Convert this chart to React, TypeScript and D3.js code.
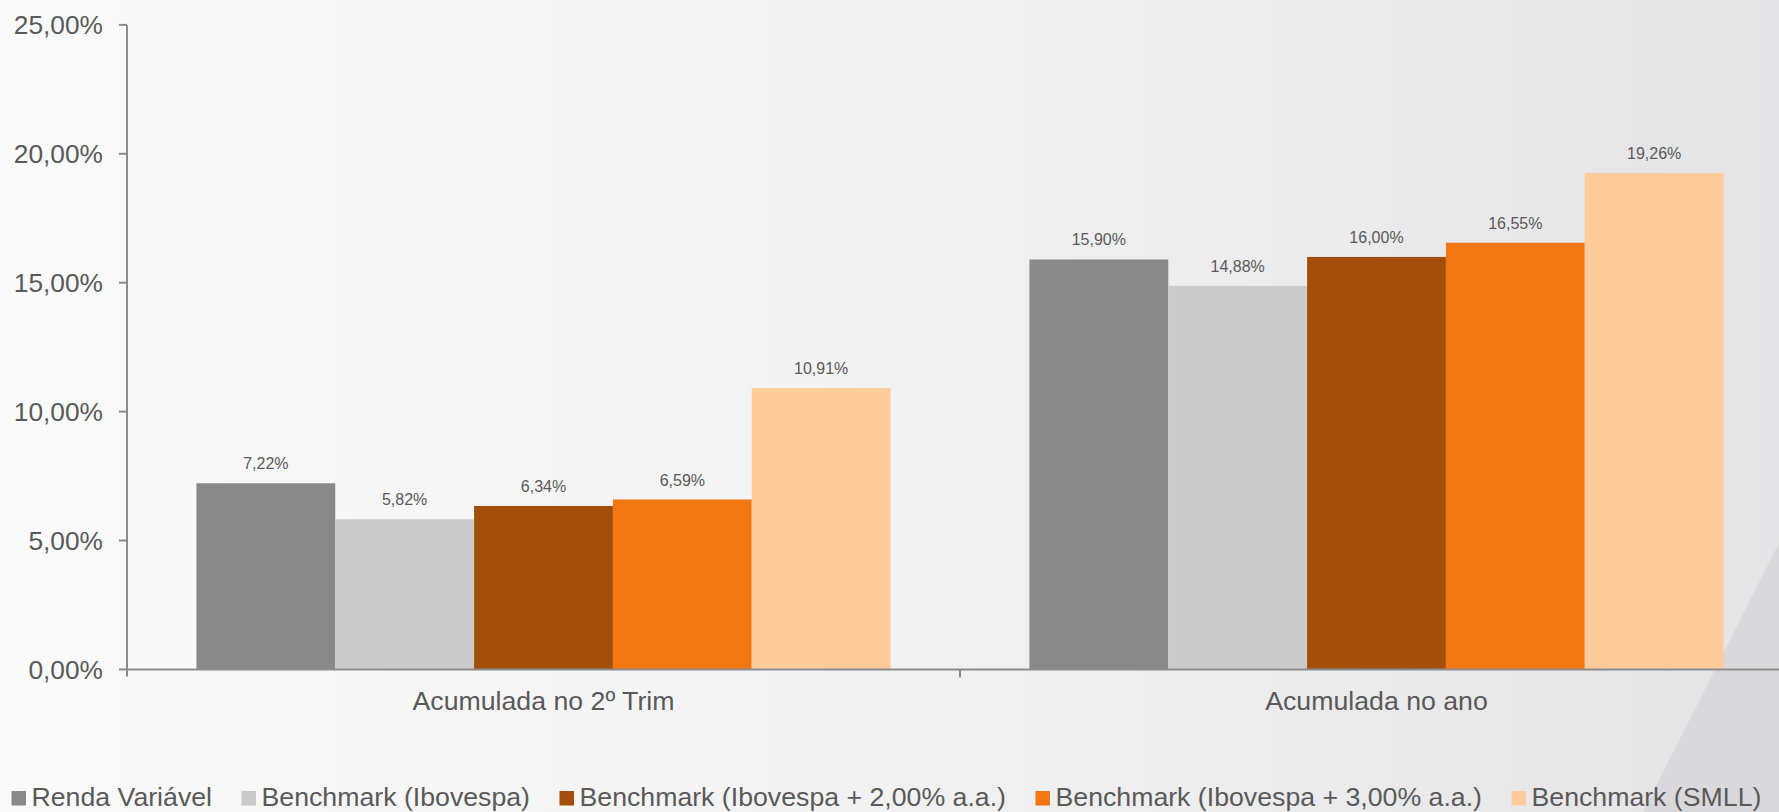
import React, { useEffect, useRef } from "react";
import * as d3 from "d3";

const categories = ["Acumulada no 2º Trim", "Acumulada no ano"];
const seriesNames = [
  "Renda Variável",
  "Benchmark (Ibovespa)",
  "Benchmark (Ibovespa + 2,00% a.a.)",
  "Benchmark (Ibovespa + 3,00% a.a.)",
  "Benchmark (SMLL)",
];
const seriesColors = ["#898989", "#cacaca", "#a24f0b", "#f27713", "#fecb9b"];
const trimValues = [7.22, 5.82, 6.34, 6.59, 10.91];
const anoValues = [15.9, 14.88, 16.0, 16.55, 19.26];
const yTicks = [0, 5, 10, 15, 20, 25];

const W = 1779;
const H = 812;
const FONT = "'Liberation Sans', Arial, Helvetica, sans-serif";
const TEXT = "#595959";
const AXIS = "#8c8c8c";

const fmt = (v: number) => d3.format(".2f")(v).replace(".", ",") + "%";

export default function App() {
  const ref = useRef<SVGSVGElement | null>(null);

  useEffect(() => {
    const svg = d3.select(ref.current);
    svg.selectAll("*").remove();

    const defs = svg.append("defs");
    const lg = defs
      .append("linearGradient")
      .attr("id", "bg")
      .attr("x1", "0")
      .attr("y1", "0")
      .attr("x2", "1")
      .attr("y2", "0");
    lg.append("stop").attr("offset", "0").attr("stop-color", "#fafafb");
    lg.append("stop").attr("offset", "0.45").attr("stop-color", "#f3f3f4");
    lg.append("stop").attr("offset", "1").attr("stop-color", "#e4e4e6");

    svg.append("rect").attr("width", W).attr("height", H).attr("fill", "url(#bg)");
    svg
      .append("path")
      .attr("d", `M${W},543 L1643,${H} L${W},${H} Z`)
      .attr("fill", "#d9d9db");

    const left = 127;
    const y0 = 669.4;
    const y = d3.scaleLinear().domain([0, 25]).range([y0, 24.9]);
    const x0 = d3.scaleBand<string>().domain(categories).range([left, 1793]).padding(0);
    const x1 = d3
      .scaleBand<string>()
      .domain(seriesNames)
      .range([0, x0.bandwidth()])
      .paddingInner(0)
      .paddingOuter(0.5);

    const groups = [trimValues, anoValues];
    const g = svg.append("g");
    categories.forEach((cat, ci) => {
      const vals = groups[ci];
      vals.forEach((v, si) => {
        const bx = (x0(cat) as number) + (x1(seriesNames[si]) as number);
        g.append("rect")
          .attr("x", bx)
          .attr("y", y(v))
          .attr("width", x1.bandwidth())
          .attr("height", y0 - y(v))
          .attr("fill", seriesColors[si]);
        g.append("text")
          .attr("x", bx + x1.bandwidth() / 2)
          .attr("y", y(v) - 14)
          .attr("text-anchor", "middle")
          .attr("font-family", FONT)
          .attr("font-size", 16)
          .attr("fill", TEXT)
          .text(fmt(v));
      });
    });

    // Y axis
    svg
      .append("line")
      .attr("x1", left)
      .attr("x2", left)
      .attr("y1", y(25))
      .attr("y2", y0 + 7)
      .attr("stroke", AXIS)
      .attr("stroke-width", 2);
    yTicks.forEach((t) => {
      svg
        .append("line")
        .attr("x1", left - 8)
        .attr("x2", left)
        .attr("y1", y(t))
        .attr("y2", y(t))
        .attr("stroke", AXIS)
        .attr("stroke-width", 2);
      svg
        .append("text")
        .attr("x", 103)
        .attr("y", y(t))
        .attr("dy", "0.36em")
        .attr("text-anchor", "end")
        .attr("font-family", FONT)
        .attr("font-size", 26.3)
        .attr("fill", TEXT)
        .text(fmt(t));
    });

    // X axis
    svg
      .append("line")
      .attr("x1", left)
      .attr("x2", W)
      .attr("y1", y0)
      .attr("y2", y0)
      .attr("stroke", AXIS)
      .attr("stroke-width", 2);
    categories.forEach((cat, i) => {
      if (i > 0) {
        const tx = x0(cat) as number;
        svg
          .append("line")
          .attr("x1", tx)
          .attr("x2", tx)
          .attr("y1", y0)
          .attr("y2", y0 + 8)
          .attr("stroke", AXIS)
          .attr("stroke-width", 2);
      }
      svg
        .append("text")
        .attr("x", (x0(cat) as number) + x0.bandwidth() / 2)
        .attr("y", 710)
        .attr("text-anchor", "middle")
        .attr("font-family", FONT)
        .attr("font-size", 26.7)
        .attr("fill", TEXT)
        .text(cat);
    });

    // Legend
    const lgG = svg.append("g");
    let cx = 11.5;
    const base = 806;
    seriesNames.forEach((name, i) => {
      lgG
        .append("rect")
        .attr("x", cx)
        .attr("y", base - 15)
        .attr("width", 14.5)
        .attr("height", 14.5)
        .attr("fill", seriesColors[i]);
      const t = lgG
        .append("text")
        .attr("x", cx + 20)
        .attr("y", base)
        .attr("font-family", FONT)
        .attr("font-size", 26.7)
        .attr("fill", TEXT)
        .text(name);
      const w = (t.node() as SVGTextElement).getComputedTextLength();
      cx = cx + 20 + w + 29.5;
    });
  }, []);

  return (
    <svg
      ref={ref}
      width={W}
      height={H}
      style={{ position: "absolute", left: 0, top: 0, display: "block" }}
    />
  );
}
